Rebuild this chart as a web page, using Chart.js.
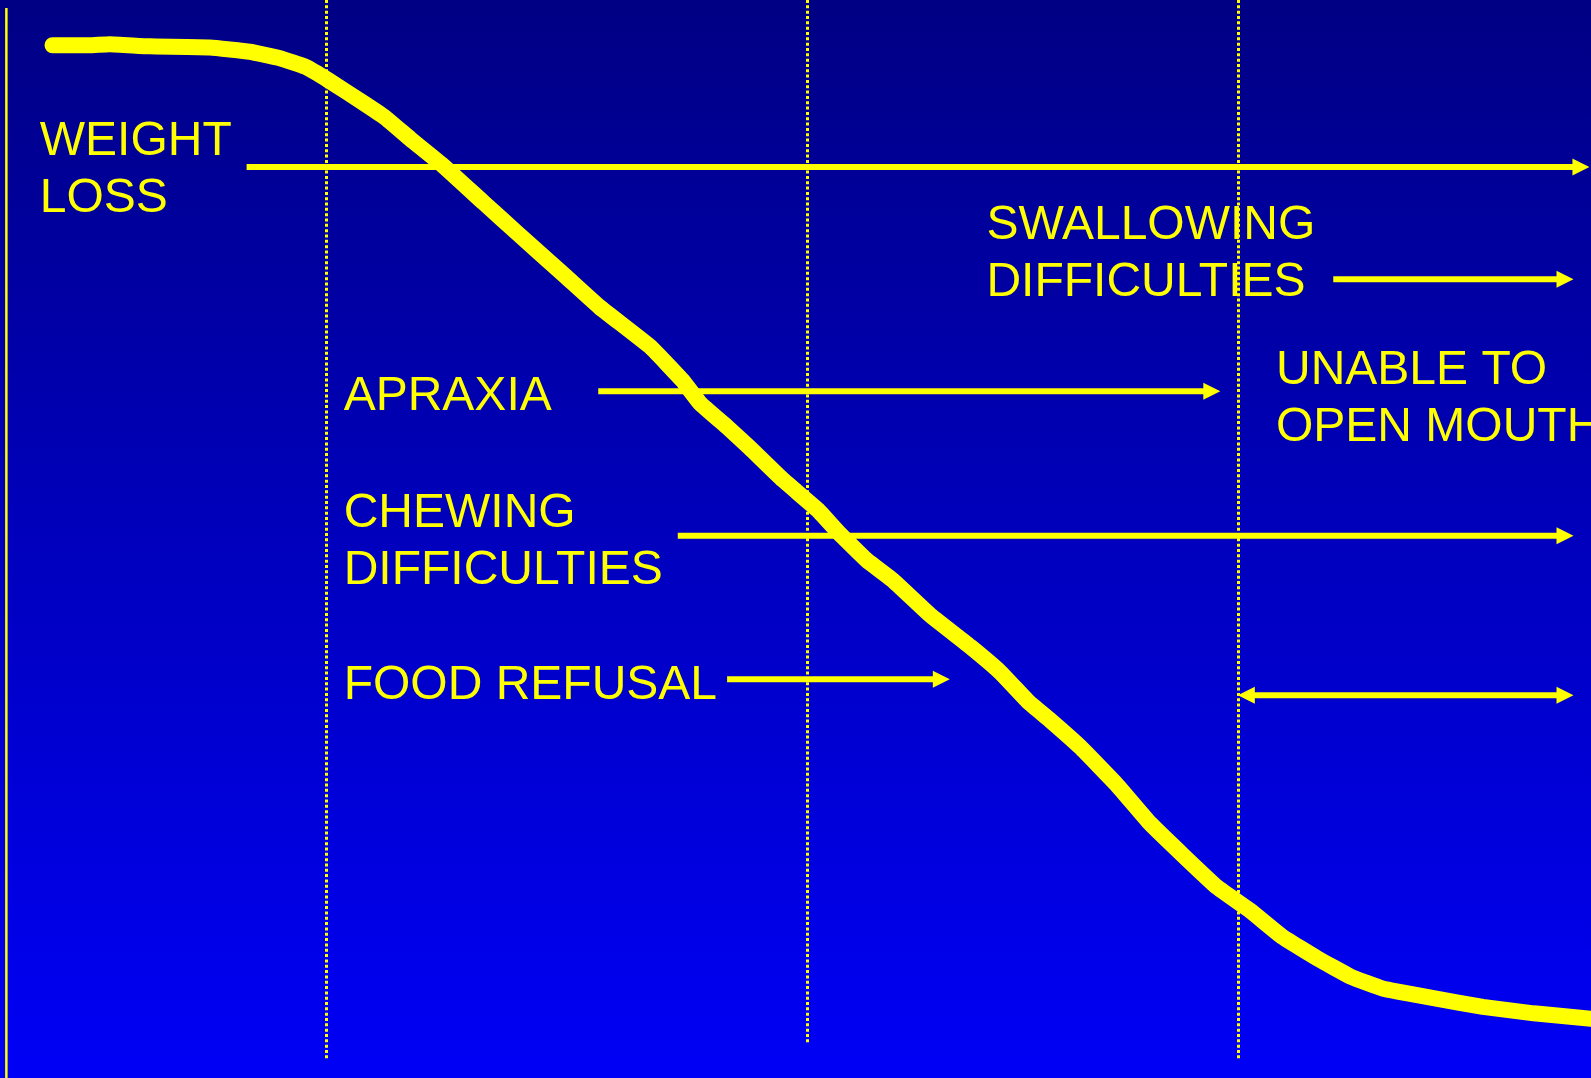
<!DOCTYPE html>
<html>
<head>
<meta charset="utf-8">
<script src="https://cdn.jsdelivr.net/npm/chart.js@4/dist/chart.umd.min.js"></script>
<style>
  html, body { margin: 0; padding: 0; overflow: hidden; background: #0000c0; }
  #wrap { width: 1591px; height: 1078px; }
  canvas { display: block; }
</style>
</head>
<body>
<div id="wrap"><canvas id="chart" width="1591" height="1078"></canvas></div>
<script>
// Progression of eating problems: x = disease stage (0-100), y = feeding ability (0-100)
const stageX = [3.3, 5.7, 6.9, 9.4, 13.2, 15.7, 17.6, 19.2, 20.7, 22.9, 24.2, 25.8, 27.8, 30.4, 32.5, 35.6, 37.7, 40.9, 42.9, 44.0, 45.7, 47.1, 49.2, 51.4, 52.7, 54.5, 56.1, 58.5, 61.0, 62.9, 64.7, 66.0, 67.9, 70.2, 72.3, 74.4, 76.5, 78.6, 80.6, 82.8, 84.9, 86.9, 90.1, 93.2, 96.4, 100.0];
const ability = [95.8, 95.8, 95.9, 95.7, 95.6, 95.2, 94.6, 93.8, 92.5, 90.4, 89.1, 87.1, 84.7, 81.2, 78.4, 74.3, 71.5, 67.8, 64.7, 62.6, 60.4, 58.5, 55.5, 52.7, 50.6, 48.0, 46.2, 42.9, 40.0, 37.6, 34.8, 33.2, 30.7, 27.2, 23.6, 20.6, 17.7, 15.5, 13.1, 11.1, 9.4, 8.3, 7.4, 6.6, 6.0, 5.5];

// Stage boundaries (dotted verticals) and where each one stops
const stageBounds = [20.5, 50.7, 77.8];
const stageBoundBottom = [1.7, 3.2, 1.7];

// Symptom labels: text lines, left edge (stage) and first baseline (ability level)
const symptomLines = [["WEIGHT", "LOSS"], ["SWALLOWING", "DIFFICULTIES"], ["UNABLE TO", "OPEN MOUTH"], ["APRAXIA"], ["CHEWING", "DIFFICULTIES"], ["FOOD REFUSAL"]];
const symptomX = [2.5, 62.0, 80.2, 21.6, 21.6, 21.6];
const symptomY = [85.6, 77.8, 64.4, 62.0, 51.1, 35.2];

// Symptom spans: level, start stage, end stage, double-headed or not
const spanLevel = [84.5, 74.1, 63.7, 50.3, 37.0, 35.5];
const spanStart = [15.5, 83.8, 37.6, 42.6, 45.7, 77.8];
const spanEnd = [99.9, 98.9, 76.7, 98.9, 59.7, 98.9];
const spanBoth = [false, false, false, false, false, true];

// Vertical reference axis at the left
const axisX = 0.4;
const axisTop = 99.25;

const YELLOW = '#ffff00';

const backdrop = {
  id: 'backdrop',
  beforeDraw(chart) {
    const { ctx, width, height } = chart;
    const g = ctx.createLinearGradient(0, 0, 0, height);
    g.addColorStop(0, '#000084');
    g.addColorStop(1, '#0000f6');
    ctx.save();
    ctx.fillStyle = g;
    ctx.fillRect(0, 0, width, height);
    ctx.restore();
  }
};

function arrowHead(ctx, tipX, y, dir) {
  const len = 17, half = 8.5;
  ctx.beginPath();
  ctx.moveTo(tipX, y);
  ctx.lineTo(tipX - dir * len, y - half);
  ctx.lineTo(tipX - dir * len, y + half);
  ctx.closePath();
  ctx.fill();
}

const annotations = {
  id: 'annotations',
  beforeDatasetsDraw(chart) {
    const { ctx, scales: { x, y } } = chart;
    ctx.save();
    // left axis line
    ctx.strokeStyle = YELLOW;
    ctx.lineWidth = 2.5;
    ctx.beginPath();
    ctx.moveTo(x.getPixelForValue(axisX), y.getPixelForValue(axisTop));
    ctx.lineTo(x.getPixelForValue(axisX), y.getPixelForValue(0));
    ctx.stroke();

    // dotted stage boundaries
    ctx.lineWidth = 3;
    ctx.setLineDash([3, 2.33]);
    stageBounds.forEach((s, i) => {
      const px = Math.round(x.getPixelForValue(s)) + 0.5;
      ctx.beginPath();
      ctx.moveTo(px, y.getPixelForValue(100));
      ctx.lineTo(px, y.getPixelForValue(stageBoundBottom[i]));
      ctx.stroke();
    });
    ctx.setLineDash([]);

    // symptom arrows
    ctx.fillStyle = YELLOW;
    ctx.lineWidth = 6;
    ctx.lineCap = 'butt';
    spanLevel.forEach((lv, i) => {
      const py = y.getPixelForValue(lv);
      const x0 = x.getPixelForValue(spanStart[i]);
      const x1 = x.getPixelForValue(spanEnd[i]);
      const a = spanBoth[i] ? x0 + 16 : x0;
      ctx.beginPath();
      ctx.moveTo(a, py);
      ctx.lineTo(x1 - 16, py);
      ctx.stroke();
      arrowHead(ctx, x1, py, 1);
      if (spanBoth[i]) arrowHead(ctx, x0, py, -1);
    });

    // symptom labels
    ctx.font = '48px "Liberation Sans", Arial, sans-serif';
    ctx.textBaseline = 'alphabetic';
    ctx.textAlign = 'left';
    symptomLines.forEach((lines, i) => {
      const px = x.getPixelForValue(symptomX[i]);
      const py = y.getPixelForValue(symptomY[i]);
      lines.forEach((t, k) => ctx.fillText(t, px, py + k * 57));
    });
    ctx.restore();
  }
};

new Chart(document.getElementById('chart'), {
  type: 'line',
  data: {
    datasets: [{
      data: stageX.map((v, i) => ({ x: v, y: ability[i] })),
      borderColor: YELLOW,
      borderWidth: 16,
      borderCapStyle: 'round',
      borderJoinStyle: 'round',
      pointRadius: 0,
      tension: 0.1,
      fill: false
    }]
  },
  options: {
    responsive: false,
    animation: false,
    devicePixelRatio: 1,
    layout: { padding: 0 },
    clip: false,
    scales: {
      x: { type: 'linear', min: 0, max: 100, display: false },
      y: { type: 'linear', min: 0, max: 100, display: false }
    },
    plugins: {
      legend: { display: false },
      tooltip: { enabled: false },
      title: { display: false }
    }
  },
  plugins: [backdrop, annotations]
});
</script>
</body>
</html>
